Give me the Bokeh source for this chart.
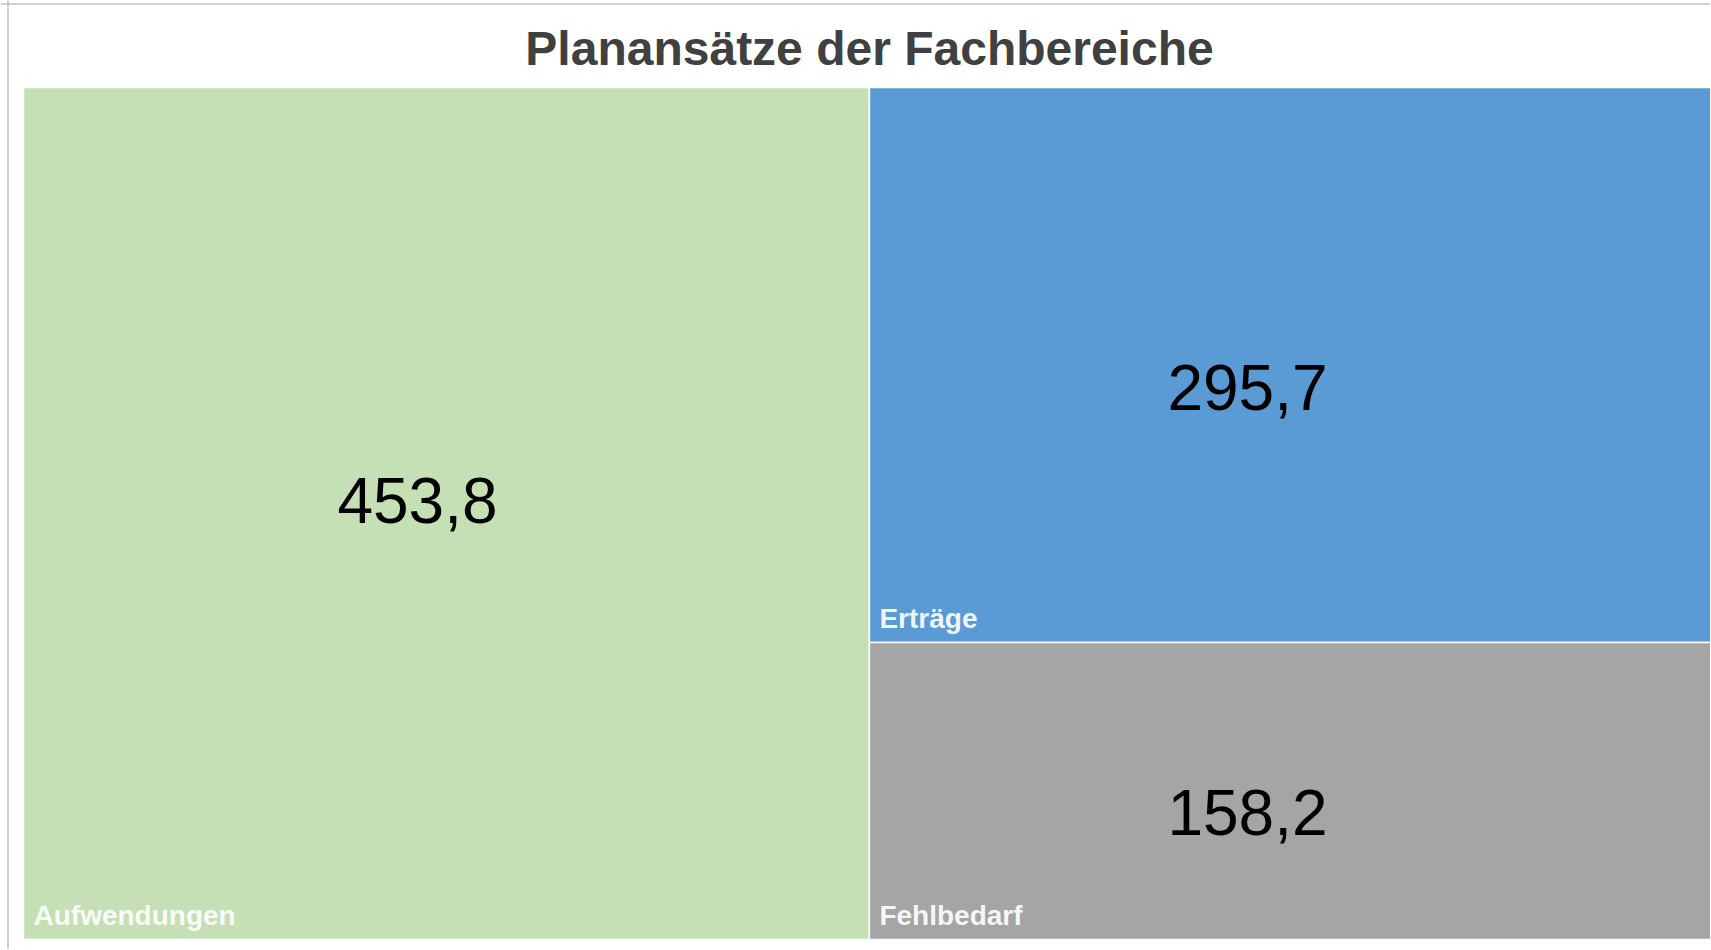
from bokeh.plotting import figure
from bokeh.models import Range1d, Span, ColumnDataSource
from bokeh.core.properties import value
from bokeh.embed import file_html
from bokeh.resources import INLINE

# ---- data ----
categories = ["Aufwendungen", "Erträge", "Fehlbedarf"]
values = [453.8, 295.7, 158.2]
value_labels = ["453,8", "295,7", "158,2"]
colors = ["#c5e0b4", "#5b9bd5", "#a5a5a5"]
title_text = "Planansätze der Fachbereiche"

# ---- squarified treemap layout in a W x H domain ----
W, H = 1692.0, 852.0


def worst(row, side):
    s = sum(row)
    return max(max(side * side * r / (s * s), (s * s) / (side * side * r)) for r in row)


def squarify(sizes, x, y, w, h):
    rects = []
    sizes = list(sizes)
    while sizes:
        side = min(w, h)
        row = [sizes[0]]
        i = 1
        while i < len(sizes) and worst(row + [sizes[i]], side) <= worst(row, side):
            row.append(sizes[i])
            i += 1
        sizes = sizes[i:]
        s = sum(row)
        if w >= h:
            cw = s / h
            cy = y + h
            for r in row:
                rh = r / cw
                rects.append((x, cy - rh, x + cw, cy))
                cy -= rh
            x += cw
            w -= cw
        else:
            rh = s / w
            cx = x
            for r in row:
                rw = r / rh
                rects.append((cx, y + h - rh, cx + rw, y + h))
                cx += rw
            h -= rh
    return rects


total = sum(values)
areas = [v / total * W * H for v in values]
rects = squarify(areas, 0.0, 0.0, W, H)
left = [r[0] for r in rects]
bottom = [r[1] for r in rects]
right = [r[2] for r in rects]
top = [r[3] for r in rects]

src = ColumnDataSource(dict(
    left=left, right=right, bottom=bottom, top=top, color=colors,
    cx=[(a + b) / 2 for a, b in zip(left, right)],
    cy=[(a + b) / 2 for a, b in zip(bottom, top)],
    vlab=value_labels, cat=categories,
    dx=[-29, -45, -45], dy=[-13, 22, 21],
))

p = figure(width=1710, height=949, output_backend="svg", toolbar_location=None,
           x_range=Range1d(-23, 1687), y_range=Range1d(-10, 939), min_border=0)
p.axis.visible = False
p.grid.visible = False
p.outline_line_color = None
p.background_fill_color = "white"
p.border_fill_color = "white"

p.quad(left="left", right="right", bottom="bottom", top="top", fill_color="color",
       line_color="white", line_width=1.5, source=src)

p.text(x="cx", y="cy", text="vlab", x_offset="dx", y_offset="dy", source=src,
       text_font=value("Liberation Sans"), text_font_size="64px", text_color="black",
       text_align="center", text_baseline="middle")

p.text(x="left", y="bottom", text="cat", x_offset=10, y_offset=-24, source=src,
       text_font=value("Liberation Sans"), text_font_size="28px", text_font_style="bold",
       text_color="white", text_alpha=0.92, text_align="left", text_baseline="alphabetic")

p.text(x=[W / 2], y=[H + 39], text=[title_text],
       text_font=value("Liberation Sans"), text_font_size="48px", text_font_style="bold",
       text_color="#404040", text_align="center", text_baseline="middle")

p.add_layout(Span(location=-15.5, dimension="height", line_color="#c0c0c0", line_width=1.5))
p.add_layout(Span(location=935.5, dimension="width", line_color="#c0c0c0", line_width=1.5))

open("out.html", "w").write(file_html(p, INLINE))
